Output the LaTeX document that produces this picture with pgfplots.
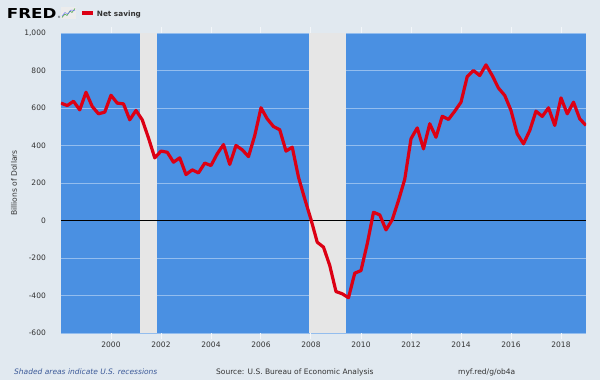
\documentclass[border=0pt]{standalone}
\usepackage{pgfplots}
\pgfplotsset{compat=1.18}
\usepackage{fontspec}
\setmainfont{DejaVu Sans}
\definecolor{bgc}{HTML}{E1E9F0}
\definecolor{plotbg}{HTML}{4A90E2}
\definecolor{recc}{HTML}{E6E6E6}
\definecolor{gridc}{HTML}{93BDEE}
\definecolor{linec}{HTML}{DC0014}
\definecolor{txt}{HTML}{333333}
\definecolor{shadetxt}{HTML}{3B5998}
\pgfplotstableread{
x y
1998.00 626
1998.25 613
1998.50 636
1998.75 590
1999.00 684
1999.25 608
1999.50 569
1999.75 578
2000.00 668
2000.25 626
2000.50 622
2000.75 537
2001.00 587
2001.25 537
2001.50 440
2001.75 334
2002.00 370
2002.25 364
2002.50 311
2002.75 334
2003.00 245
2003.25 270
2003.50 254
2003.75 306
2004.00 293
2004.25 356
2004.50 405
2004.75 299
2005.00 400
2005.25 377
2005.50 341
2005.75 453
2006.00 601
2006.25 542
2006.50 501
2006.75 484
2007.00 370
2007.25 391
2007.50 231
2007.75 115
2008.00 5
2008.25 -116
2008.50 -142
2008.75 -240
2009.00 -379
2009.25 -391
2009.50 -412
2009.75 -281
2010.00 -267
2010.25 -124
2010.50 44
2010.75 30
2011.00 -50
2011.25 4
2011.50 107
2011.75 220
2012.00 436
2012.25 494
2012.50 382
2012.75 516
2013.00 444
2013.25 556
2013.50 539
2013.75 583
2014.00 631
2014.25 768
2014.50 800
2014.75 773
2015.00 830
2015.25 773
2015.50 706
2015.75 667
2016.00 587
2016.25 462
2016.50 409
2016.75 480
2017.00 583
2017.25 555
2017.50 601
2017.75 507
2018.00 654
2018.25 569
2018.50 631
2018.75 542
2019.00 507
}\netsaving
\begin{document}
\begin{tikzpicture}[x=1pt,y=1pt]
\useasboundingbox (0,0) rectangle (600,380);
\fill[bgc] (0,0) rectangle (600,380);
\begin{axis}[
  at={(61pt,47pt)}, anchor=south west,
  scale only axis, width=525pt, height=300pt,
  xmin=1998, xmax=2019, ymin=-600, ymax=1000,
  axis background/.style={fill=plotbg},
  axis line style={draw=none},
  xtick={2000,2002,...,2018},
  xticklabels={2000,2002,2004,2006,2008,2010,2012,2014,2016,2018},
  ytick={-600,-400,...,1000},
  yticklabels={-600,-400,-200,0,200,400,600,800,{1,000}},
  ymajorgrids, grid style={gridc, line width=0.9pt},
  tick align=outside, major tick length=6pt,
  xtick style={draw=white!60!bgc, line width=1pt},
  ytick style={draw=none},
  tick label style={font=\fontsize{7.5}{9}\selectfont, text=txt},
  yticklabel style={anchor=east, inner sep=0pt, xshift=-9pt},
  xticklabel style={anchor=north, inner sep=0pt, yshift=-3pt},
]
\addplot[fill=recc, draw=none] coordinates {(2001.1667,-600) (2001.1667,1000) (2001.8333,1000) (2001.8333,-600)};
\addplot[fill=recc, draw=none] coordinates {(2007.9167,-600) (2007.9167,1000) (2009.4167,1000) (2009.4167,-600)};
\addplot[black, line width=1.2pt] coordinates {(1998,0) (2019,0)};
\addplot[linec, line width=3.2pt, line join=round] table[x=x,y=y] {\netsaving};
\end{axis}
% y label
\node[rotate=90, text=txt, font=\fontsize{7.6}{9}\selectfont] at (14,197) {Billions of Dollars};
% header
\node[anchor=base west, inner sep=0pt, xscale=1.22, font=\fontsize{13.7}{15}\bfseries\selectfont] at (6.7,361) {FRED};
\node[anchor=base west, inner sep=0pt, font=\fontsize{3}{3}\selectfont] at (57.5,361.5) {®};
\fill[white!85!gray] (61,361) rectangle (76,373);
\draw[green!50!black!70, line width=0.6pt] (62,362.5) -- (65,366) -- (67,364.5) -- (70,369) -- (72,367.5) -- (75,371.5);
\draw[blue!60, line width=0.4pt] (62,364) -- (65,367.5) -- (68,366) -- (71,370) -- (75,369.5);
\draw[linec, line width=4pt] (82,367) -- (92.5,367);
\node[anchor=base west, inner sep=0pt, text=txt, font=\fontsize{7.3}{9}\bfseries\selectfont] at (96.7,363.3) {Net saving};
% footer
\node[anchor=base west, inner sep=0pt, text=shadetxt, font=\fontsize{7.5}{9}\itshape\selectfont] at (14,5) {Shaded areas indicate U.S. recessions};
\node[anchor=base west, inner sep=0pt, text=txt, font=\fontsize{7.5}{9}\selectfont] at (216,5) {Source: U.S. Bureau of Economic Analysis};
\node[anchor=base west, inner sep=0pt, text=txt, font=\fontsize{7.5}{9}\selectfont] at (458,5) {myf.red/g/ob4a};
\end{tikzpicture}
\end{document}
